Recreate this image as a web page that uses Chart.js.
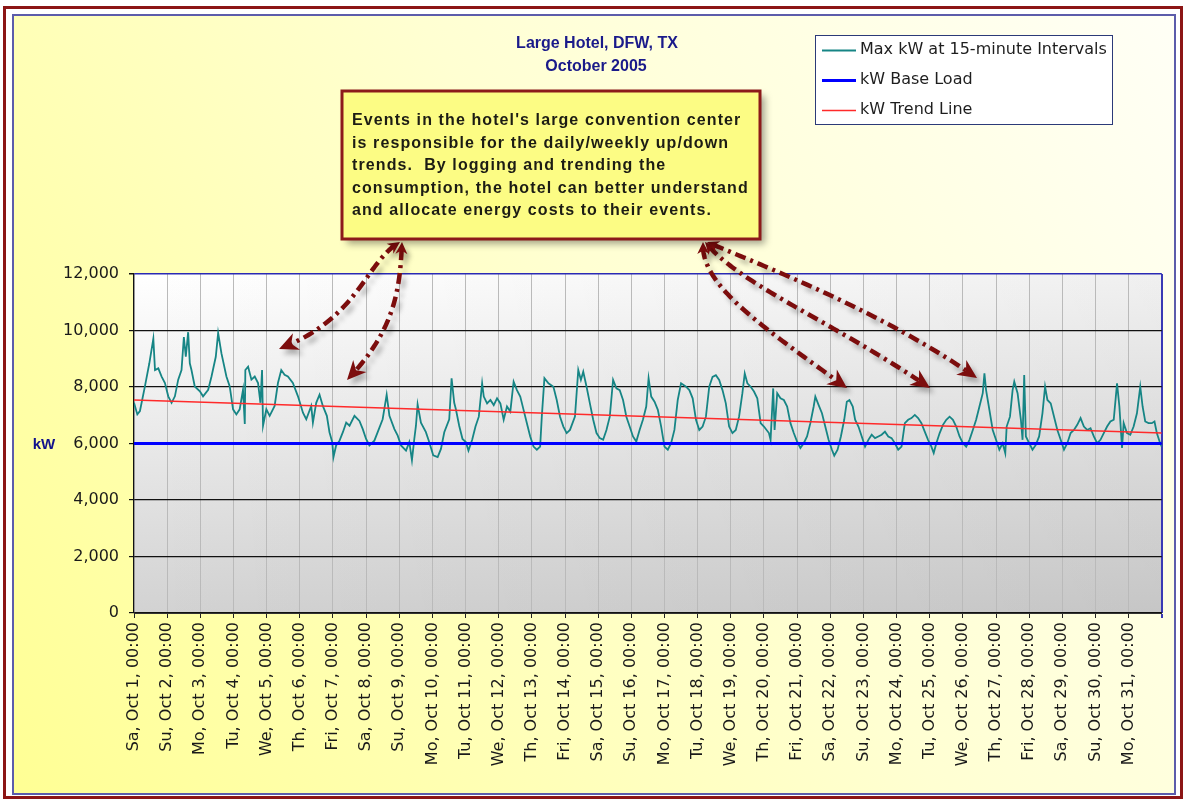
<!DOCTYPE html>
<html>
<head>
<meta charset="utf-8">
<title>Large Hotel, DFW, TX - October 2005</title>
<script src="https://cdn.jsdelivr.net/npm/chart.js@4.4.1/dist/chart.umd.min.js"></script>
<style>
  html, body { margin: 0; padding: 0; background: #ffffff; }
  canvas { display: block; }
</style>
</head>
<body>
<canvas id="c" width="1185" height="800"></canvas>
<script>
// Day labels along the time axis (one per midnight)
const dayLabels = [
  'Sa, Oct 1, 00:00', 'Su, Oct 2, 00:00', 'Mo, Oct 3, 00:00', 'Tu, Oct 4, 00:00',
  'We, Oct 5, 00:00', 'Th, Oct 6, 00:00', 'Fri, Oct 7, 00:00', 'Sa, Oct 8, 00:00',
  'Su, Oct 9, 00:00', 'Mo, Oct 10, 00:00', 'Tu, Oct 11, 00:00', 'We, Oct 12, 00:00',
  'Th, Oct 13, 00:00', 'Fri, Oct 14, 00:00', 'Sa, Oct 15, 00:00', 'Su, Oct 16, 00:00',
  'Mo, Oct 17, 00:00', 'Tu, Oct 18, 00:00', 'We, Oct 19, 00:00', 'Th, Oct 20, 00:00',
  'Fri, Oct 21, 00:00', 'Sa, Oct 22, 00:00', 'Su, Oct 23, 00:00', 'Mo, Oct 24, 00:00',
  'Tu, Oct 25, 00:00', 'We, Oct 26, 00:00', 'Th, Oct 27, 00:00', 'Fri, Oct 28, 00:00',
  'Sa, Oct 29, 00:00', 'Su, Oct 30, 00:00', 'Mo, Oct 31, 00:00'
];
const monthHours = 744;            // Oct 1 00:00 .. Nov 1 00:00
const yTickStep = 2000;
const yMax = 12000;

// Hours since Oct 1 00:00 for each logged demand reading
const hours = [
  0, 2.4, 4.3, 7.9, 11.1, 14, 15.2, 17.6, 20, 22.4, 24.8, 27.2, 29.6, 32, 34.4, 36.1, 37.5, 39.2, 40.4, 41.6,
  44, 47.7, 50, 53.7, 56.1, 59.2, 60.9, 63.3, 66.9, 69.3, 71.7, 74.1, 76.5, 78.9, 80.2, 80.6, 82.6, 85, 87.4, 89.8,
  91.5, 92.7, 93.4, 95.8, 98.2, 101.8, 104.2, 106.6, 109, 111.4, 115, 118.7, 122.3, 124.7, 128.3, 129.5, 131.9, 134.3, 136.7, 139.6,
  141.5, 143.5, 144.4, 146.3, 148.8, 151.2, 153.6, 156, 159.6, 163.2, 165.6, 168, 170.4, 174, 176.4, 180, 182.9, 184.9, 188.5, 190.9,
  193.3, 196.9, 199.3, 201.2, 202.9, 204.1, 205.3, 207.7, 211.3, 213.7, 216.6, 219.8, 222.2, 224.6, 228.2, 229.9, 231.8, 233, 235.4, 237.8,
  240.2, 242.1, 244.8, 247.2, 249.6, 252, 253.2, 255.6, 258, 260.4, 262.8, 265.2, 267.6, 270, 272.4, 274.8, 277.2, 279.6, 282, 284.4,
  286.8, 289.2, 291.6, 294, 295.2, 297.1, 300, 303.6, 306, 308.4, 310.8, 313.2, 315.6, 319.2, 321.6, 323.5, 325.2, 327.6, 330, 332.4,
  334.8, 337.2, 339.6, 342, 344.4, 346.8, 349.2, 351.6, 354, 356.4, 358.8, 361.2, 363.6, 366, 368.4, 370.8, 372.5, 374.4, 376.8, 379.2,
  381.6, 384, 386.4, 388.8, 391.2, 393.6, 396, 399.6, 402, 404.4, 406.8, 409.2, 411.6, 414, 416.4, 418.8, 421.2, 423.6, 426, 428.4,
  430.8, 433.2, 435.6, 438, 440.4, 442.1, 444, 446.4, 448.8, 451.2, 453.6, 456, 459.6, 460.8, 462.7, 463.7, 465.6, 468, 470.4, 472.8,
  475.2, 477.6, 480, 482.4, 484.8, 487.2, 489.6, 492, 493.2, 495.6, 498, 500.4, 502.8, 505.2, 506.9, 509.3, 511.7, 514.1, 516, 517.9,
  520.3, 522, 524.4, 526.8, 529.2, 531.6, 534, 536.4, 538.8, 541.2, 543.6, 546, 548.4, 550.8, 553.2, 555.6, 558, 560.4, 562.8, 565.2,
  567.6, 570, 572.4, 574.8, 577.2, 578.9, 580.8, 583.2, 585.6, 588, 590.4, 592.8, 595.2, 597.6, 600, 602.4, 604.8, 607.2, 609.6, 612,
  614.4, 615.6, 616.8, 619.2, 621.6, 624, 626.4, 628.8, 630.7, 631.7, 634.1, 636, 637.2, 639.6, 642, 643.2, 644.4, 645.6, 648, 650.4,
  652.8, 655.2, 657.6, 659.5, 661.2, 663.6, 666, 668.4, 670.8, 673.2, 675.6, 678, 680.4, 682.8, 685.2, 687.6, 690, 692.4, 694.8, 697.2,
  699.6, 702, 704.4, 706.8, 709.2, 711.6, 713.3, 715.2, 716.4, 718.8, 721.2, 723.6, 726, 728.4, 730.1, 732, 734.4, 736.8, 738.7, 740.4,
  742.8, 744
];

// Maximum kW demand at each reading
const maxKw = [
  7440, 7030, 7150, 8020, 8840, 9710, 8600, 8660, 8370, 8140, 7670, 7440, 7670, 8260, 8600, 9770, 9070, 9940, 8840, 8600,
  8020, 7850, 7670, 7900, 8370, 9070, 9910, 9190, 8370, 8020, 7210, 7030, 7210, 7900, 6690, 8600, 8720, 8260, 8370, 8140,
  7440, 8600, 6630, 7210, 6980, 7330, 8140, 8600, 8430, 8370, 8140, 7670, 7090, 6860, 7330, 6740, 7440, 7730, 7330, 6980,
  6400, 6050, 5520, 5930, 6100, 6400, 6740, 6630, 6980, 6800, 6510, 6160, 5930, 6100, 6400, 6860, 7730, 6980, 6510, 6280,
  5930, 5750, 6050, 5410, 6160, 6630, 7380, 6740, 6400, 6050, 5580, 5520, 5810, 6400, 6860, 8310, 7440, 7210, 6630, 6160,
  6050, 5750, 6130, 6600, 6950, 8130, 7660, 7420, 7540, 7360, 7600, 7420, 6840, 7310, 7130, 8190, 7890, 7660, 7190, 6720,
  6250, 5890, 5780, 5890, 6950, 8310, 8130, 8010, 7540, 6950, 6600, 6370, 6480, 6950, 8600, 8250, 8540, 8010, 7420, 6840,
  6370, 6190, 6130, 6480, 6950, 8250, 7950, 7890, 7540, 6950, 6600, 6250, 6070, 6480, 6840, 7310, 8310, 7660, 7480, 7190,
  6600, 5890, 5780, 6010, 6480, 7540, 8130, 8010, 7890, 7600, 6840, 6480, 6600, 6950, 8010, 8360, 8420, 8250, 7890, 7420,
  6600, 6370, 6480, 6950, 7780, 8480, 8130, 8010, 7840, 7600, 6720, 6600, 6370, 6130, 7950, 6480, 7780, 7600, 7540, 7310,
  6720, 6370, 6070, 5840, 6010, 6250, 6720, 7310, 7660, 7360, 7070, 6600, 6130, 5780, 5570, 5780, 6250, 6840, 7480, 7540,
  7310, 6840, 6600, 6250, 5890, 6130, 6310, 6190, 6250, 6310, 6420, 6250, 6190, 6010, 5780, 5890, 6720, 6840, 6900, 7010,
  6900, 6720, 6420, 6130, 5890, 5660, 6010, 6370, 6660, 6840, 6950, 6840, 6600, 6250, 6010, 5890, 6130, 6480, 6840, 7310,
  7780, 8480, 7890, 7190, 6480, 6130, 5780, 6010, 5660, 6600, 6950, 7890, 8190, 7780, 6840, 6130, 8420, 6250, 6010, 5780,
  5950, 6250, 7070, 8010, 7540, 7420, 6950, 6480, 6130, 5780, 6010, 6370, 6480, 6660, 6900, 6600, 6480, 6540, 6250, 6010,
  6130, 6370, 6600, 6780, 6840, 8130, 7310, 5840, 6720, 6370, 6310, 6600, 7070, 8010, 7310, 6780, 6720, 6720, 6780, 6370,
  6010, 5890
];

// Constant base load and the start/end of the linear trend
const baseLoad = 6000;
const trendStart = 7540;
const trendEnd = 6370;

const seriesNames = ['Max kW at 15-minute Intervals', 'kW Base Load', 'kW Trend Line'];
const titleLines = ['Large Hotel, DFW, TX', 'October 2005'];
const axisTitle = 'kW';
const noteLines = [
  "Events in the hotel's large convention center",
  'is responsible for the daily/weekly up/down',
  'trends.  By logging and trending the',
  'consumption, the hotel can better understand',
  'and allocate energy costs to their events.'
];

const tickHours = dayLabels.map((_, i) => i * 24).concat([monthHours]);

// ---------- decoration helpers ----------
function cubicPoint(p, t) {
  const u = 1 - t;
  return [
    u*u*u*p[0][0] + 3*u*u*t*p[1][0] + 3*u*t*t*p[2][0] + t*t*t*p[3][0],
    u*u*u*p[0][1] + 3*u*u*t*p[1][1] + 3*u*t*t*p[2][1] + t*t*t*p[3][1]
  ];
}
function arrowHead(ctx, tip, from, len, half) {
  const a = Math.atan2(tip[1] - from[1], tip[0] - from[0]);
  ctx.beginPath();
  ctx.moveTo(tip[0], tip[1]);
  ctx.lineTo(tip[0] - len*Math.cos(a) + half*Math.sin(a), tip[1] - len*Math.sin(a) - half*Math.cos(a));
  ctx.lineTo(tip[0] - len*0.7*Math.cos(a), tip[1] - len*0.7*Math.sin(a));
  ctx.lineTo(tip[0] - len*Math.cos(a) - half*Math.sin(a), tip[1] - len*Math.sin(a) + half*Math.cos(a));
  ctx.closePath();
  ctx.fill();
}
function curvedArrow(ctx, p) {
  const pts = [];
  for (let i = 0; i <= 80; i++) pts.push(cubicPoint(p, i / 80));
  const tip = pts[pts.length - 1];
  const start = pts[0];
  ctx.beginPath();
  let started = false;
  for (const q of pts) {
    const dTip = Math.hypot(q[0] - tip[0], q[1] - tip[1]);
    const dStart = Math.hypot(q[0] - start[0], q[1] - start[1]);
    if (dTip < 12 || dStart < 6) continue;
    if (!started) { ctx.moveTo(q[0], q[1]); started = true; } else ctx.lineTo(q[0], q[1]);
  }
  ctx.stroke();
  ctx.setLineDash([]);
  arrowHead(ctx, tip, pts[pts.length - 6], 19, 9);
  arrowHead(ctx, start, pts[5], 12, 6);
  ctx.setLineDash([11, 5, 3, 5]);
}

const arrowPaths = [
  [[400, 242], [365, 262], [360, 318], [279, 349]],
  [[402, 242], [400, 290], [395, 330], [347, 380]],
  [[703, 242], [700, 285], [760, 325], [847, 388]],
  [[705, 242], [740, 285], [830, 320], [930, 388]],
  [[707, 242], [760, 265], [880, 310], [977, 378]]
];

const decor = {
  id: 'decor',
  beforeDraw(chart) {
    const ctx = chart.ctx;
    const W = chart.width, H = chart.height;
    const a = chart.chartArea;
    ctx.save();
    ctx.fillStyle = '#ffffff';
    ctx.fillRect(0, 0, W, H);
    // outer frame
    const g = ctx.createLinearGradient(1175, 15, 13, 794);
    g.addColorStop(0, '#fffff6');
    g.addColorStop(0.45, '#ffffd2');
    g.addColorStop(1, '#ffff94');
    ctx.fillStyle = g;
    ctx.fillRect(13, 15, 1162, 779);
    ctx.strokeStyle = '#8c1515';
    ctx.lineWidth = 3;
    ctx.strokeRect(4.5, 7.5, 1177, 790);
    ctx.strokeStyle = '#5c5cab';
    ctx.lineWidth = 2;
    ctx.strokeRect(13, 15, 1162, 779);
    // plot area
    const pg = ctx.createLinearGradient(0, a.top, 0, a.bottom);
    pg.addColorStop(0, '#ffffff');
    pg.addColorStop(1, '#d2d2d2');
    ctx.fillStyle = pg;
    ctx.fillRect(a.left, a.top, a.right - a.left, a.bottom - a.top);
    const hg = ctx.createLinearGradient(a.left, 0, a.right, 0);
    hg.addColorStop(0, 'rgba(0,0,0,0)');
    hg.addColorStop(1, 'rgba(0,0,0,0.06)');
    ctx.fillStyle = hg;
    ctx.fillRect(a.left, a.top, a.right - a.left, a.bottom - a.top);
    ctx.restore();
  },
  afterDraw(chart) {
    const ctx = chart.ctx;
    const a = chart.chartArea;
    ctx.save();
    // title
    ctx.fillStyle = '#1a1a8a';
    ctx.font = 'bold 16px "Liberation Sans", Arial, sans-serif';
    ctx.textAlign = 'center';
    ctx.textBaseline = 'middle';
    ctx.fillText(titleLines[0], 597, 44);
    ctx.fillText(titleLines[1], 596, 67);
    // axis title
    ctx.fillStyle = '#12128c';
    ctx.font = 'bold 15px "Liberation Sans", Arial, sans-serif';
    ctx.fillText(axisTitle, 44, (a.top + a.bottom) / 2 + 1);

    // legend
    const lx = 815, ly = 35, lw = 297, lh = 89;
    ctx.fillStyle = '#ffffff';
    ctx.fillRect(lx, ly, lw, lh);
    ctx.strokeStyle = '#2c3a78';
    ctx.lineWidth = 1;
    ctx.strokeRect(lx + 0.5, ly + 0.5, lw, lh);
    ctx.textAlign = 'left';
    ctx.font = '16px "DejaVu Sans", sans-serif';
    chart.data.datasets.forEach((ds, i) => {
      const y = 50 + i * 30;
      ctx.strokeStyle = ds.borderColor;
      ctx.lineWidth = ds.borderWidth;
      ctx.beginPath();
      ctx.moveTo(822, y + 0.5);
      ctx.lineTo(856, y + 0.5);
      ctx.stroke();
      ctx.fillStyle = '#1e1e1e';
      ctx.fillText(ds.label, 860, y);
    });

    // dash-dot arrows with soft shadow
    ctx.strokeStyle = '#7c0d0d';
    ctx.fillStyle = '#7c0d0d';
    ctx.lineWidth = 4.5;
    ctx.lineCap = 'butt';
    ctx.shadowColor = 'rgba(0,0,0,0.28)';
    ctx.shadowBlur = 5;
    ctx.shadowOffsetX = 4;
    ctx.shadowOffsetY = 5;
    ctx.setLineDash([11, 5, 3, 5]);
    arrowPaths.forEach(p => curvedArrow(ctx, p));
    ctx.setLineDash([]);

    // note box
    const bx = 342, by = 91, bw = 418, bh = 148;
    ctx.shadowColor = 'rgba(0,0,0,0.35)';
    ctx.shadowBlur = 7;
    ctx.shadowOffsetX = 5;
    ctx.shadowOffsetY = 5;
    ctx.fillStyle = '#fcfc84';
    ctx.fillRect(bx, by, bw, bh);
    ctx.shadowColor = 'rgba(0,0,0,0)';
    ctx.strokeStyle = '#8c1a1a';
    ctx.lineWidth = 3;
    ctx.strokeRect(bx, by, bw, bh);
    ctx.fillStyle = '#1c1c14';
    ctx.font = 'bold 16px "Liberation Sans", Arial, sans-serif';
    try { ctx.letterSpacing = '1.1px'; } catch (e) {}
    ctx.textAlign = 'left';
    ctx.textBaseline = 'middle';
    noteLines.forEach((t, i) => ctx.fillText(t, 352, 121 + i * 22.5));
    try { ctx.letterSpacing = '0px'; } catch (e) {}
    ctx.restore();
  }
};

const tickFont = { family: '"DejaVu Sans", sans-serif', size: 16 };

new Chart(document.getElementById('c').getContext('2d'), {
  type: 'line',
  data: {
    datasets: [
      {
        label: seriesNames[0],
        data: hours.map((h, i) => ({ x: h, y: maxKw[i] })),
        borderColor: '#168585',
        borderWidth: 1.8,
        pointRadius: 0,
        tension: 0,
        order: 3
      },
      {
        label: seriesNames[1],
        data: [{ x: 0, y: baseLoad }, { x: monthHours, y: baseLoad }],
        borderColor: '#0000ff',
        borderWidth: 3,
        pointRadius: 0,
        order: 2
      },
      {
        label: seriesNames[2],
        data: [{ x: 0, y: trendStart }, { x: monthHours, y: trendEnd }],
        borderColor: '#ff2a2a',
        borderWidth: 1.5,
        pointRadius: 0,
        order: 1
      }
    ]
  },
  options: {
    responsive: false,
    animation: false,
    devicePixelRatio: 1,
    layout: { padding: { left: 0, right: 19, top: 274, bottom: 0 } },
    plugins: { legend: { display: false }, tooltip: { enabled: false }, title: { display: false } },
    scales: {
      x: {
        type: 'linear',
        min: 0,
        max: monthHours,
        afterFit: s => { s.height = 187; },
        afterBuildTicks: s => { s.ticks = tickHours.map(v => ({ value: v })); },
        ticks: {
          autoSkip: false,
          minRotation: 90,
          maxRotation: 90,
          padding: 4,
          font: tickFont,
          color: '#1a1a1a',
          callback: v => dayLabels[Math.round(v / 24)] ?? ''
        },
        grid: {
          color: c => (c.tick && c.tick.value === monthHours) ? '#3a3ab4' : '#bababa',
          tickColor: c => (c.tick && c.tick.value === monthHours) ? '#3a3ab4' : '#222222',
          tickLength: 5,
          lineWidth: c => (c.tick && c.tick.value === monthHours) ? 2 : 1
        },
        border: { color: '#333333', width: 1 }
      },
      y: {
        min: 0,
        max: yMax,
        afterFit: s => { s.width = 134; },
        ticks: {
          stepSize: yTickStep,
          padding: 10,
          font: tickFont,
          color: '#1a1a1a',
          callback: v => v.toLocaleString('en-US')
        },
        grid: {
          color: c => (c.tick && c.tick.value === yMax) ? '#2a2ab4' : '#111111',
          tickColor: '#111111',
          tickLength: 5,
          lineWidth: c => (c.tick && c.tick.value === yMax) ? 1.5 : 1.2
        },
        border: { color: '#111111', width: 1.2 }
      }
    }
  },
  plugins: [decor]
});
</script>
</body>
</html>
